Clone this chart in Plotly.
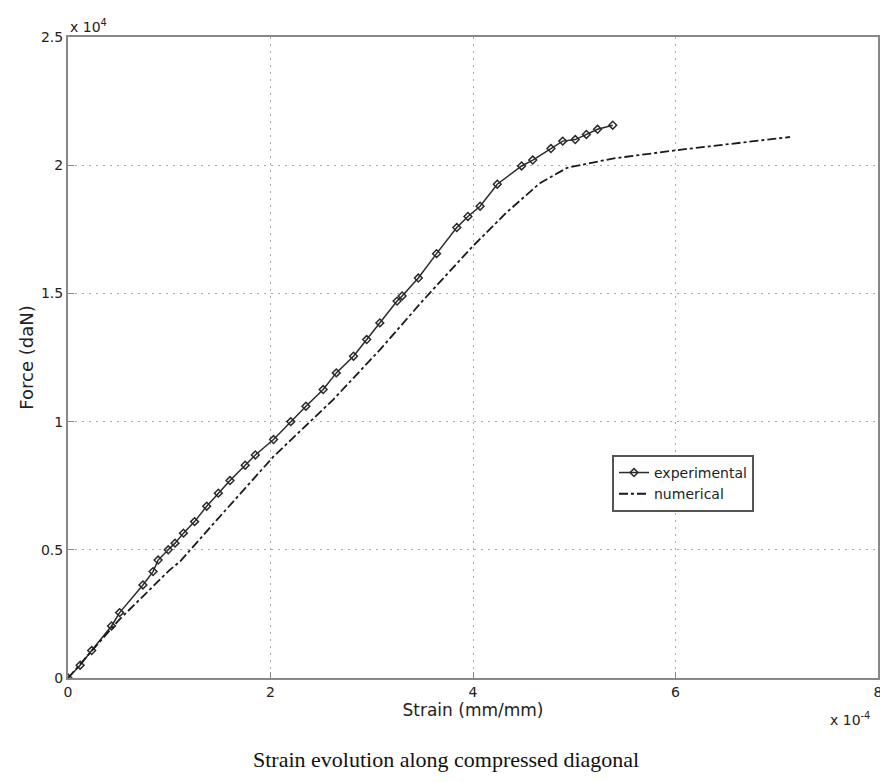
import plotly.graph_objects as go

# Strain in units of 1e-4, force in units of 1e4 daN
exp_strain = [0, 0.12, 0.234, 0.43, 0.51, 0.74, 0.84, 0.89, 0.99, 1.057, 1.14, 1.25, 1.37,
              1.485, 1.6, 1.75, 1.85, 2.03, 2.2, 2.35, 2.52, 2.65, 2.82, 2.95, 3.08, 3.25,
              3.30, 3.46, 3.64, 3.84, 3.95, 4.07, 4.24, 4.48, 4.59, 4.77, 4.886, 5.01,
              5.12, 5.23, 5.38]
exp_force = [0, 0.05, 0.107, 0.203, 0.255, 0.363, 0.415, 0.46, 0.50, 0.526, 0.565, 0.61, 0.67,
             0.721, 0.77, 0.83, 0.87, 0.93, 1.0, 1.06, 1.125, 1.19, 1.255, 1.32, 1.385, 1.47,
             1.49, 1.56, 1.655, 1.757, 1.80, 1.84, 1.926, 1.997, 2.02, 2.065, 2.094, 2.10,
             2.12, 2.14, 2.156]

num_strain = [0, 0.5, 1.0, 1.106, 1.53, 2.03, 2.62, 3.08, 3.5, 4.0, 4.33, 4.66, 4.93,
              5.38, 6.04, 7.13]
num_force = [0, 0.225, 0.42, 0.454, 0.643, 0.864, 1.086, 1.28, 1.47, 1.685, 1.815, 1.93,
             1.99, 2.026, 2.06, 2.11]

x_ticks = [0, 2, 4, 6, 8]
y_ticks = [0, 0.5, 1, 1.5, 2, 2.5]
y_tick_labels = ["0", "0.5", "1", "1.5", "2", "2.5"]

SANS = "DejaVu Sans, Arial"
fig = go.Figure()
fig.add_trace(go.Scatter(
    x=exp_strain, y=exp_force, mode="lines+markers", name="experimental",
    line=dict(color="#2a2a2a", width=1.5),
    marker=dict(symbol="diamond-open", size=6, color="#2a2a2a", line=dict(width=1.5)),
))
fig.add_trace(go.Scatter(
    x=num_strain, y=num_force, mode="lines", name="numerical",
    line=dict(color="#1a1a1a", width=1.8, dash="dashdot"),
))

axis_common = dict(
    showline=True, linecolor="#888888", linewidth=2, mirror=True,
    showgrid=True, gridcolor="#aaaaaa", griddash="2px,5px", gridwidth=1,
    ticks="inside", ticklen=6, tickcolor="#888888", zeroline=False,
    automargin=False,
    tickfont=dict(family=SANS, size=14, color="#222222"),
)
fig.update_xaxes(range=[0, 8], tickvals=x_ticks, ticktext=[str(v) for v in x_ticks],
                 title=dict(text="Strain (mm/mm)", font=dict(family=SANS, size=17, color="#222222"), standoff=2),
                 **axis_common)
fig.update_yaxes(range=[0, 2.5], tickvals=y_ticks, ticktext=y_tick_labels,
                 title=dict(text="Force (daN)", font=dict(family=SANS, size=18, color="#222222"), standoff=3),
                 **axis_common)

fig.add_annotation(xref="paper", yref="paper", x=0.0, y=1.0, xanchor="left", yanchor="bottom",
                   text="x 10<sup>4</sup>", showarrow=False,
                   font=dict(family=SANS, size=14, color="#222222"))
fig.add_annotation(xref="paper", yref="paper", x=0.9926, y=-0.047, xanchor="right", yanchor="top",
                   text="x 10<sup>-4</sup>", showarrow=False,
                   font=dict(family=SANS, size=14, color="#222222"))
fig.add_annotation(xref="paper", yref="paper", x=0.467, y=-0.104, xanchor="center", yanchor="top",
                   text="Strain evolution along compressed diagonal", showarrow=False,
                   font=dict(family="Liberation Serif, Times New Roman", size=22, color="#111111"))

fig.update_layout(
    width=880, height=774,
    margin=dict(l=60, r=10, t=29, b=104),
    paper_bgcolor="white", plot_bgcolor="white",
    showlegend=True,
    legend=dict(x=0.6716, y=0.348, xanchor="left", yanchor="top",
                bordercolor="#555555", borderwidth=2, bgcolor="white",
                font=dict(family=SANS, size=14, color="#222222"),
                tracegroupgap=0, itemwidth=30),
)

fig.write_html("out.html")
